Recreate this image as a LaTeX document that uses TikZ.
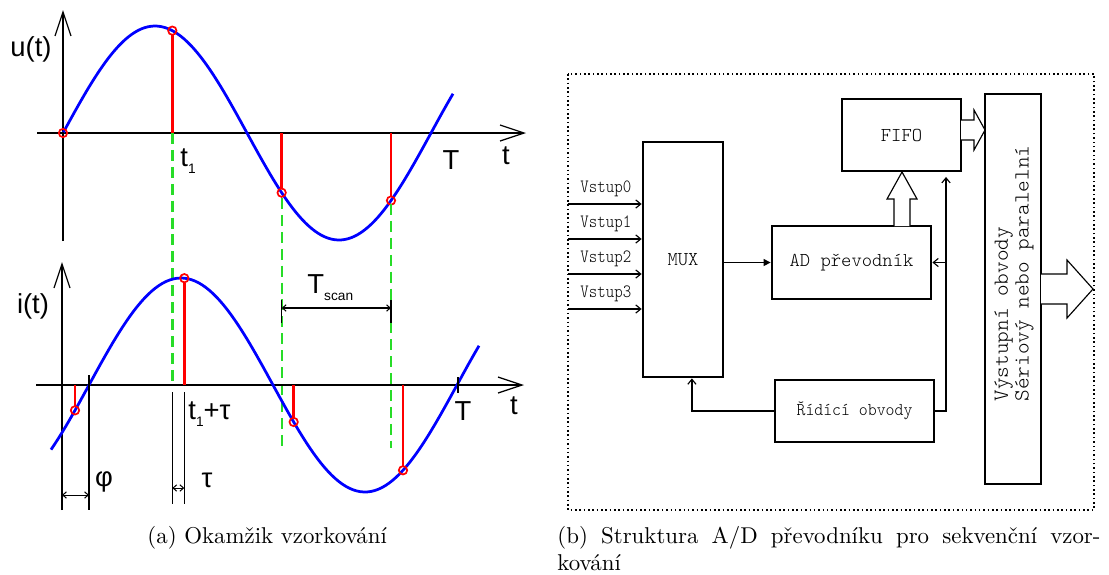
\documentclass[tikz,border=0pt]{standalone}
\usepackage{fontspec}
\usepackage{graphicx}
\newfontfamily\arial{Liberation Sans}
\usetikzlibrary{arrows.meta}
\definecolor{zelena}{RGB}{40,220,40}
\newcommand{\ind}[1]{\raisebox{-0.5ex}{\fontsize{6}{6}\selectfont #1}}
\newcommand{\uzky}[2]{\scalebox{#1}[1]{#2}}

\begin{document}
\begin{tikzpicture}[x=0.4375pt, y=-0.4375pt,
    osa/.style={line width=0.55pt, -{Straight Barb[length=10.5pt,width=7pt]}},
    sinus/.style={blue, line width=1.2pt},
    vzorek/.style={red, line width=1.05pt, shorten >=1.9pt},
    bod/.style={red, line width=0.75pt},
    mez/.style={zelena, line width=1.05pt, dash pattern=on 4.8pt off 2.6pt},
    kota/.style={line width=0.45pt, {Straight Barb[length=1.6pt,width=2.8pt]}-{Straight Barb[length=1.6pt,width=2.8pt]}},
    popis/.style={font=\arial\fontsize{12}{14}\selectfont, inner sep=0},
    blok/.style={draw, line width=1.2pt, inner sep=0, font=\fontsize{8.6}{10}\fontseries{l}\ttfamily},
    vodic/.style={line width=0.5pt, -{Straight Barb[length=2.2pt,width=3.6pt]}},
    sipka/.style={draw, line width=0.5pt, fill=white},
    vstup/.style={anchor=west, inner sep=0, font=\fontsize{8.2}{9}\fontseries{l}\ttfamily}]
\useasboundingbox (0,0) rectangle (1109,574);

    % (a) u(t)
    \draw[osa] (63,241) -- (63,10);
    \draw[osa] (37,133) -- (526,133);
    \draw[sinus] plot[domain=63:453, samples=120] (\x, {133-107*sin((\x-63)/368*360)});
    \foreach \k in {1,2,3}{
        \pgfmathsetmacro{\xu}{63+109.33*\k}
        \pgfmathsetmacro{\yu}{133-107*sin((\xu-63)/368*360)}
        \draw[vzorek] (\xu,133) -- (\xu,\yu);
        \draw[bod] (\xu,\yu) circle (4.2);
    }
    \draw[mez] (172.3,133) -- (172.3,385);
    \draw[mez] (281.7,198) -- (281.7,447);
    \draw[mez] (391,204) -- (391,448);
    \draw[bod] (63,133) circle (4.2);
    \fill (63,133) circle (1.5);
    \node[popis] (ut) at (31,49) {u(t)};
    \node[popis, anchor=base west] (t1) at (180,166) {t\ind{1}};
    \node[popis] (T1) at (451,160) {T};
    \node[popis] (tu) at (506,156) {t};

    % (a) i(t)
    \draw[osa] (62,510) -- (62,262);
    \draw[osa] (36,385) -- (524,385);
    \draw[sinus] plot[domain=51:479, samples=120] (\x, {385-107*sin((\x-89)/368*360)});
    \foreach \k in {0,1,2,3}{
        \pgfmathsetmacro{\xi}{75+109.33*\k}
        \pgfmathsetmacro{\yi}{385-107*sin((\xi-89)/368*360)}
        \draw[vzorek] (\xi,385) -- (\xi,\yi);
        \draw[bod] (\xi,\yi) circle (4.2);
    }
    \fill (62,385) circle (1.5);
    \draw[line width=0.45pt] (89,375) -- (89,510);
    \draw[kota] (62,495) -- (89,495);
    \draw[line width=0.45pt] (172.3,392) -- (172.3,504);
    \draw[line width=0.45pt] (184.3,392) -- (184.3,504);
    \draw[kota] (172.3,488) -- (184.3,488);
    \draw[line width=0.45pt] (281.7,300) -- (281.7,323);
    \draw[line width=0.45pt] (391,300) -- (391,323);
    \draw[kota] (281.7,308) -- (391,308);
    \draw[line width=0.45pt] (458,377) -- (458,393);
    \node[popis] (it) at (33,306) {i(t)};
    \node[popis, anchor=base west] (t1tau) at (188,419) {t\ind{1}+τ};
    \node[popis] (fi) at (104,482) {φ};
    \node[popis] (tau) at (207,480) {τ};
    \node[popis, anchor=base west] (tscan) at (307,293) {T\ind{scan}};
    \node[popis] (T2) at (463,411) {T};
    \node[popis] (ti) at (514,406) {t};

    % (b) struktura
    \draw[line width=0.65pt, dash pattern=on 0.7pt off 1.2pt] (568,74) rectangle (1094,510);
    \node[blok, minimum width=35pt, minimum height=102.8pt] (mux) at (683,259.5) {MUX};
    \node[blok, minimum width=52.1pt, minimum height=31.5pt] (fifo) at (901.5,135) {FIFO};
    \node[blok, minimum width=69.6pt, minimum height=31.9pt] (ad) at (851.5,262.5) {AD převodník};
    \node[blok, minimum width=69.6pt, minimum height=27.1pt, font=\fontsize{7.9}{9}\fontseries{l}\ttfamily] (rizeni) at (854.5,411) {\uzky{0.94}{Řídící obvody}};
    \node[blok, minimum width=24.5pt, minimum height=170.6pt] (out) at (1013,289) {};
    \node[rotate=90, align=left, inner sep=0, font=\fontsize{9.4}{7.9}\fontseries{l}\ttfamily] (outtext) at (1014,273.5) {\uzky{1.03}{Výstupní obvody}\\\uzky{1.03}{Sériový nebo paralelní}};

    \foreach \n/\y in {0/204,1/239,2/274,3/309}{
        \coordinate (v\n) at (568,\y);
        \draw[vodic] (v\n) -- (v\n -| mux.west);
        \node[vstup] (lv\n) at (580,\y-15) {\uzky{0.86}{Vstup\n}};
    }
    \draw[line width=0.5pt, -{Triangle[length=3pt,width=3pt]}] (mux.east |- ad.west) -- (ad.west);
    \coordinate (sber) at (946,411);
    \draw[vodic, shorten >=2pt] (rizeni.east) -- (sber) -- (sber |- fifo.south);
    \draw[vodic] (sber |- ad.east) -- (ad.east);
    \draw[vodic] (rizeni.west) -| ([xshift=3.9pt]mux.south);

    % dute sipky
    \draw[sipka] (894,226) -- (894,199) -- (887,199) -- (902,172) -- (917,199) -- (910,199) -- (910,226);
    \draw[sipka] (961,120) -- (974,120) -- (974,110) -- (985,130) -- (974,150) -- (974,140) -- (961,140);
    \draw[sipka] (1041,274) -- (1067,274) -- (1067,260) -- (1093,289) -- (1067,318) -- (1067,304) -- (1041,304);

    % popisky
    \node[anchor=base west, inner sep=0] (capa) at (147,543) {(a) Okamžik vzorkování};
    \node[anchor=base west, inner sep=0, text width=237.6pt, align=justify] (capb) at (557,543) {(b) Struktura A/D převodníku pro sekvenční vzor-\linebreak kování};
\end{tikzpicture}
\end{document}
